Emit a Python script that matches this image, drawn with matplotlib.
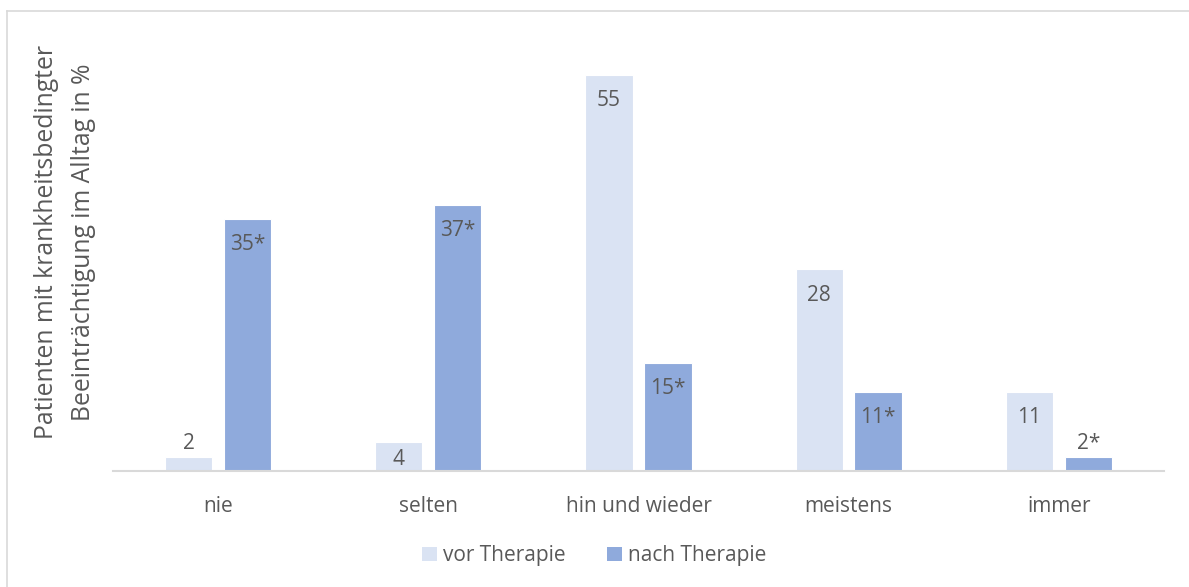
from matplotlib import pyplot as plt
from matplotlib.lines import Line2D
from matplotlib.patches import Patch
import numpy as np

plt.rcParams['font.family'] = ['Open Sans', 'DejaVu Sans']

categories = ['nie', 'selten', 'hin und wieder', 'meistens', 'immer']
vor = [2, 4, 55, 28, 11]
nach = [35, 37, 15, 11, 2]
vor_labels = ['2', '4', '55', '28', '11']
nach_labels = ['35*', '37*', '15*', '11*', '2*']

c_vor = '#DAE3F3'
c_nach = '#8FAADC'
txt = '#595959'

fig = plt.figure(figsize=(11.89, 5.87), dpi=100)
ax = fig.add_axes([0.095, 0.1976, 0.884, 0.736])

x = np.arange(len(categories))
off = 0.14
w = 0.225
ax.bar(x - off, vor, w, color=c_vor, edgecolor='white', linewidth=0.8)
ax.bar(x + off, nach, w, color=c_nach, edgecolor='white', linewidth=0.8)


def put_labels(xs, vals, labs):
    for xi, v, lab in zip(xs, vals, labs):
        if v < 3:
            ax.annotate(lab, (xi, v), xytext=(0, 2), textcoords='offset points',
                        ha='center', va='bottom', fontsize=15, color=txt)
        elif v < 5:
            ax.annotate(lab, (xi, v), xytext=(0, -5), textcoords='offset points',
                        ha='center', va='top', fontsize=15, color=txt)
        else:
            ax.annotate(lab, (xi, v), xytext=(0, -11), textcoords='offset points',
                        ha='center', va='top', fontsize=15, color=txt)


put_labels(x - off, vor, vor_labels)
put_labels(x + off, nach, nach_labels)

ax.set_xlim(-0.5, 4.5)
ax.set_ylim(0, 60)
ax.set_yticks([])
ax.set_xticks(x)
ax.set_xticklabels(categories, fontsize=15, color=txt)
ax.tick_params(axis='x', length=0, pad=18)
for s in ['top', 'right', 'left']:
    ax.spines[s].set_visible(False)
ax.spines['bottom'].set_color('#D9D9D9')
ax.spines['bottom'].set_linewidth(1.5)

fig.text(0.0545, 0.587, 'Patienten mit krankheitsbedingter\nBeeinträchtigung im Alltag in %',
         rotation=90, ha='center', va='center', fontsize=17.8, color=txt,
         linespacing=1.6)

handles = [Patch(facecolor=c_vor, edgecolor='none'), Patch(facecolor=c_nach, edgecolor='none')]
fig.legend(handles, ['vor Therapie', 'nach Therapie'], loc='center',
           bbox_to_anchor=(0.5, 0.053), ncol=2, frameon=False, fontsize=15,
           labelcolor=txt, handlelength=0.7, handleheight=0.7,
           handletextpad=0.3, columnspacing=2.0)

# outer chart border (left and top only visible)
fig.add_artist(Line2D([7 / 1189, 7 / 1189], [0, 1 - 11 / 587], transform=fig.transFigure,
                      color='#D9D9D9', linewidth=1.2))
fig.add_artist(Line2D([7 / 1189, 1], [1 - 11 / 587, 1 - 11 / 587], transform=fig.transFigure,
                      color='#D9D9D9', linewidth=1.2))

fig.savefig('out.png', dpi=100)
